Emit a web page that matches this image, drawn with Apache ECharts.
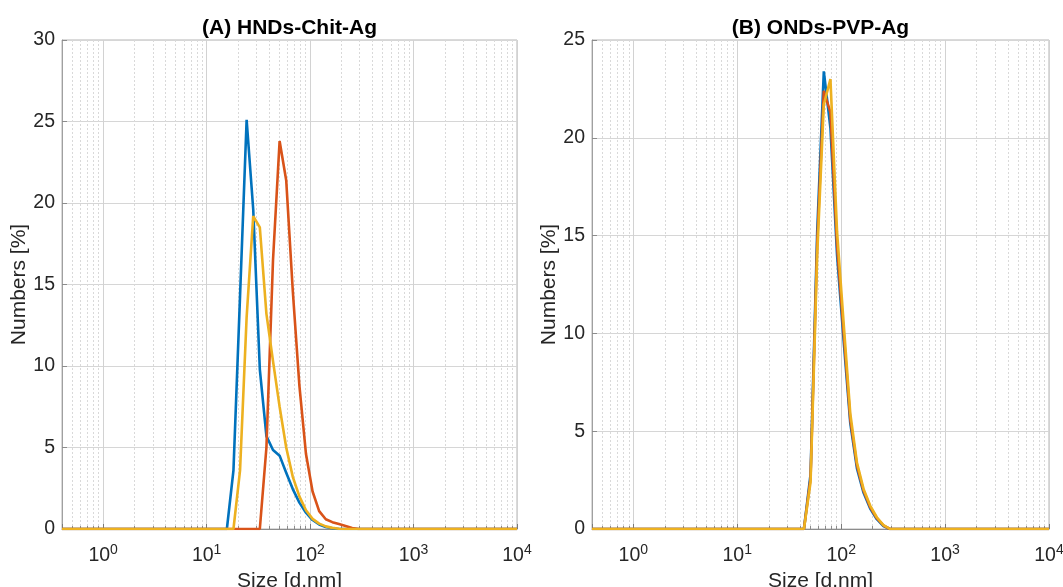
<!DOCTYPE html>
<html>
<head>
<meta charset="utf-8">
<script src="https://cdn.jsdelivr.net/npm/echarts@6/dist/echarts.min.js"></script>
<style>
  html, body { margin: 0; padding: 0; background: #ffffff; }
  #chart { width: 1063px; height: 587px; }
</style>
</head>
<body>
<div id="chart"></div>
<script>
// Size classes (d.nm) of the DLS number distribution, 70 log-spaced bins
const sizes = [
  0.4, 0.4632, 0.5365, 0.6213, 0.7195, 0.8332, 0.9649, 1.117, 1.294, 1.499,
  1.736, 2.010, 2.328, 2.696, 3.122, 3.615, 4.187, 4.849, 5.615, 6.503,
  7.531, 8.721, 10.10, 11.70, 13.54, 15.69, 18.17, 21.04, 24.36, 28.21,
  32.67, 37.84, 43.82, 50.75, 58.77, 68.06, 78.82, 91.28, 105.7, 122.4,
  141.8, 164.2, 190.1, 220.2, 255.0, 295.3, 342.0, 396.1, 458.7, 531.2,
  615.1, 712.4, 825.0, 955.4, 1106, 1281, 1484, 1718, 1990, 2305,
  2669, 3091, 3580, 4145, 4801, 5560, 6439, 7456, 8635, 10000
];

// (A) HNDs-Chit-Ag, Numbers [%]
const hndsRun1 = [
  0, 0, 0, 0, 0, 0, 0, 0, 0, 0,
  0, 0, 0, 0, 0, 0, 0, 0, 0, 0,
  0, 0, 0, 0, 0, 0, 3.6, 14.3, 25.1, 19.6,
  9.8, 5.7, 4.85, 4.5, 3.45, 2.45, 1.62, 1.0, 0.55, 0.28,
  0.12, 0.04, 0, 0, 0, 0, 0, 0, 0, 0,
  0, 0, 0, 0, 0, 0, 0, 0, 0, 0,
  0, 0, 0, 0, 0, 0, 0, 0, 0, 0
];
const hndsRun2 = [
  0, 0, 0, 0, 0, 0, 0, 0, 0, 0,
  0, 0, 0, 0, 0, 0, 0, 0, 0, 0,
  0, 0, 0, 0, 0, 0, 0, 0, 0, 0,
  0, 5.0, 16.5, 23.8, 21.4, 14.6, 8.8, 4.6, 2.3, 1.1,
  0.6, 0.42, 0.3, 0.18, 0.06, 0, 0, 0, 0, 0,
  0, 0, 0, 0, 0, 0, 0, 0, 0, 0,
  0, 0, 0, 0, 0, 0, 0, 0, 0, 0
];
const hndsRun3 = [
  0, 0, 0, 0, 0, 0, 0, 0, 0, 0,
  0, 0, 0, 0, 0, 0, 0, 0, 0, 0,
  0, 0, 0, 0, 0, 0, 0, 3.6, 13.0, 19.2,
  18.5, 13.2, 10.3, 7.5, 5.0, 3.2, 2.0, 1.15, 0.62, 0.33,
  0.16, 0.07, 0.02, 0, 0, 0, 0, 0, 0, 0,
  0, 0, 0, 0, 0, 0, 0, 0, 0, 0,
  0, 0, 0, 0, 0, 0, 0, 0, 0, 0
];

// (B) ONDs-PVP-Ag, Numbers [%]
const ondsRun1 = [
  0, 0, 0, 0, 0, 0, 0, 0, 0, 0,
  0, 0, 0, 0, 0, 0, 0, 0, 0, 0,
  0, 0, 0, 0, 0, 0, 0, 0, 0, 0,
  0, 0, 0, 2.8, 15.2, 23.4, 20.5, 14.0, 9.6, 5.4,
  3.1, 1.85, 1.05, 0.5, 0.15, 0, 0, 0, 0, 0,
  0, 0, 0, 0, 0, 0, 0, 0, 0, 0,
  0, 0, 0, 0, 0, 0, 0, 0, 0, 0
];
const ondsRun2 = [
  0, 0, 0, 0, 0, 0, 0, 0, 0, 0,
  0, 0, 0, 0, 0, 0, 0, 0, 0, 0,
  0, 0, 0, 0, 0, 0, 0, 0, 0, 0,
  0, 0, 0, 2.6, 14.6, 22.4, 21.3, 14.5, 10.0, 5.6,
  3.25, 1.95, 1.12, 0.55, 0.18, 0, 0, 0, 0, 0,
  0, 0, 0, 0, 0, 0, 0, 0, 0, 0,
  0, 0, 0, 0, 0, 0, 0, 0, 0, 0
];
const ondsRun3 = [
  0, 0, 0, 0, 0, 0, 0, 0, 0, 0,
  0, 0, 0, 0, 0, 0, 0, 0, 0, 0,
  0, 0, 0, 0, 0, 0, 0, 0, 0, 0,
  0, 0, 0, 2.4, 14.0, 21.7, 23.0, 15.2, 10.5, 5.9,
  3.4, 2.05, 1.2, 0.6, 0.2, 0, 0, 0, 0, 0,
  0, 0, 0, 0, 0, 0, 0, 0, 0, 0,
  0, 0, 0, 0, 0, 0, 0, 0, 0, 0
];

const panelTitles = ['(A) HNDs-Chit-Ag', '(B) ONDs-PVP-Ag'];
const xAxisTitle = 'Size [d.nm]';
const yAxisTitle = 'Numbers [%]';
const xLimits = [0.4, 10000];
const yLimitsA = [0, 30];
const yLimitsB = [0, 25];
const yStep = 5;
const decadeStarts = [0.1, 1, 10, 100, 1000];
const minorMultipliers = [2, 3, 4, 5, 6, 7, 8, 9];

const lineColors = ['#0072BD', '#D95319', '#EDB120'];
const FONT = "'Liberation Sans', Arial, Helvetica, sans-serif";

// minor (2..9 x 10^k) positions inside the x range, for the dotted log grid
const minorPositions = [];
decadeStarts.forEach(d => minorMultipliers.forEach(m => {
  const v = +(d * m).toPrecision(6);
  if (v > xLimits[0] && v < xLimits[1]) minorPositions.push([v, 0]);
}));

const pairs = vals => sizes.map((s, i) => [s, vals[i]]);

function minorGridItem(params, api) {
  const cs = params.coordSys;
  const x = Math.round(api.coord([api.value(0), 0])[0]) + 0.5;
  const yb = cs.y + cs.height;
  return {
    type: 'group',
    children: [
      { type: 'line', shape: { x1: x, y1: cs.y, x2: x, y2: yb },
        style: { stroke: '#d9d9d9', lineWidth: 1, lineDash: [2, 2] } },
      { type: 'line', shape: { x1: x, y1: yb, x2: x, y2: yb - 3 },
        style: { stroke: '#8c8c8c', lineWidth: 1 } }
    ]
  };
}

function decadeLabel(v) {
  const e = Math.log10(v);
  const r = Math.round(e);
  if (Math.abs(e - r) > 1e-6) return '';
  return '{b|10}{s|' + r + '}';
}

function xAxisFor(gridIndex) {
  return {
    type: 'log', logBase: 10, gridIndex,
    min: xLimits[0], max: xLimits[1],
    name: xAxisTitle, nameLocation: 'middle', nameGap: 39,
    nameTextStyle: { fontFamily: FONT, fontSize: 21, color: '#262626' },
    axisLine: { lineStyle: { color: '#8c8c8c', width: 1 } },
    axisTick: { inside: true, length: 5, lineStyle: { color: '#7a7a7a' } },
    splitLine: { show: true, lineStyle: { color: '#d2d2d2', width: 1 } },
    axisLabel: {
      margin: 14, formatter: decadeLabel,
      rich: {
        b: { fontFamily: FONT, fontSize: 19.5, color: '#262626' },
        s: { fontFamily: FONT, fontSize: 14, color: '#262626', padding: [0, 0, 12, 0] }
      }
    }
  };
}

function yAxisFor(gridIndex, lim) {
  return {
    type: 'value', gridIndex,
    min: lim[0], max: lim[1], interval: yStep,
    name: yAxisTitle, nameLocation: 'middle', nameGap: 28,
    nameTextStyle: { fontFamily: FONT, fontSize: 21, color: '#262626' },
    axisLine: { show: true, lineStyle: { color: '#a0a0a0', width: 1 } },
    axisTick: { show: true, inside: true, length: 5, lineStyle: { color: '#8c8c8c' } },
    splitLine: { show: true, lineStyle: { color: '#d6d6d6', width: 1 } },
    axisLabel: { margin: 7, fontFamily: FONT, fontSize: 19.5, color: '#262626' }
  };
}

function lineSeries(vals, color, xi) {
  return {
    type: 'line', xAxisIndex: xi, yAxisIndex: xi,
    data: pairs(vals), showSymbol: false, symbol: 'none',
    lineStyle: { color, width: 2.6 }, itemStyle: { color },
    z: 5, silent: true, animation: false
  };
}

function minorSeries(xi) {
  return {
    type: 'custom', xAxisIndex: xi, yAxisIndex: xi,
    data: minorPositions, renderItem: minorGridItem,
    silent: true, z: 1, animation: false
  };
}

const gridBase = {
  top: 40, height: 489, show: true, containLabel: false, outerBoundsMode: 'none',
  borderColor: '#b4b4b4', borderWidth: 1, backgroundColor: 'transparent'
};

const chart = echarts.init(document.getElementById('chart'), null, { renderer: 'canvas' });
chart.setOption({
  animation: false,
  backgroundColor: '#ffffff',
  title: [
    { text: panelTitles[0], left: 289.5, top: 18, textAlign: 'center', padding: 0,
      textStyle: { fontFamily: FONT, fontSize: 21, fontWeight: 'bold', color: '#000000' } },
    { text: panelTitles[1], left: 820.5, top: 18, textAlign: 'center', padding: 0,
      textStyle: { fontFamily: FONT, fontSize: 21, fontWeight: 'bold', color: '#000000' } }
  ],
  grid: [
    Object.assign({}, gridBase, { left: 62, width: 455 }),
    Object.assign({}, gridBase, { left: 592, width: 457 })
  ],
  xAxis: [xAxisFor(0), xAxisFor(1)],
  yAxis: [yAxisFor(0, yLimitsA), yAxisFor(1, yLimitsB)],
  series: [
    minorSeries(0), minorSeries(1),
    lineSeries(hndsRun1, lineColors[0], 0),
    lineSeries(hndsRun2, lineColors[1], 0),
    lineSeries(hndsRun3, lineColors[2], 0),
    lineSeries(ondsRun1, lineColors[0], 1),
    lineSeries(ondsRun2, lineColors[1], 1),
    lineSeries(ondsRun3, lineColors[2], 1)
  ]
});
</script>
</body>
</html>
